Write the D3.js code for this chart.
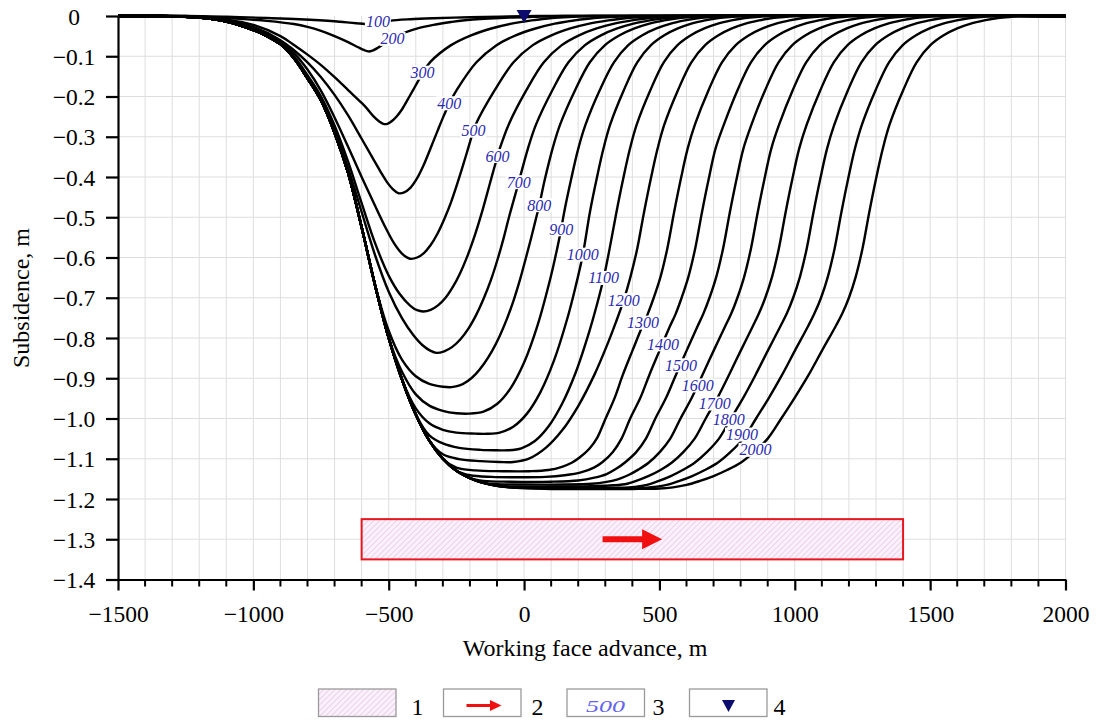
<!DOCTYPE html>
<html><head><meta charset="utf-8">
<script src="https://cdn.jsdelivr.net/npm/d3@7"></script>
<style>
body{margin:0;background:#fff;}
svg{display:block;font-family:"Liberation Serif","Times New Roman",serif;}
</style></head><body>
<svg id="chart" width="1098" height="720"></svg>
<script>
// ---------------- data ----------------
const advances = [100,200,300,400,500,600,700,800,900,1000,1100,1200,1300,1400,1500,1600,1700,1800,1900,2000];
const xTicks = [-1500,-1000,-500,0,500,1000,1500,2000];
const yTicks = [0,-0.1,-0.2,-0.3,-0.4,-0.5,-0.6,-0.7,-0.8,-0.9,-1.0,-1.1,-1.2,-1.3,-1.4];

// common left flank of the deep basins
const envelope = [[-1500,0],[-1350,0],[-1300,-0.001],[-1200,-0.004],[-1100,-0.014],[-1000,-0.035],[-950,-0.05],[-900,-0.07],[-850,-0.105],[-800,-0.155],[-750,-0.21],[-700,-0.29],[-650,-0.39],[-600,-0.525],[-550,-0.67],[-500,-0.80],[-450,-0.905],[-400,-0.99],[-350,-1.055],[-300,-1.10],[-250,-1.13],[-200,-1.148],[-150,-1.16],[-100,-1.167],[-50,-1.171],[0,-1.173],[100,-1.175]];

const p100 = [[-1500,0],[-1250,0],[-1100,-0.002],[-950,-0.005],[-830,-0.008],[-700,-0.013],[-620,-0.018],[-570,-0.02],[-530,-0.017],[-495,-0.012],[-420,-0.008],[-335,-0.0055],[-200,-0.003],[-90,-0.0015],[50,0],[2000,0]];
const p200 = [[-1500,0],[-1250,0],[-1150,-0.003],[-1050,-0.007],[-950,-0.012],[-850,-0.02],[-800,-0.027],[-750,-0.037],[-700,-0.05],[-650,-0.065],[-615,-0.077],[-590,-0.085],[-575,-0.088],[-560,-0.086],[-540,-0.079],[-515,-0.068],[-486,-0.057],[-460,-0.048],[-440,-0.041],[-390,-0.03],[-335,-0.022],[-270,-0.015],[-210,-0.01],[-90,-0.005],[35,-0.002],[150,0],[2000,0]];
const p300 = [[-1500,0],[-1300,-0.0005],[-1200,-0.003],[-1100,-0.009],[-1000,-0.022],[-900,-0.05],[-850,-0.072],[-800,-0.096],[-750,-0.122],[-700,-0.152],[-650,-0.184],[-600,-0.216],[-580,-0.23],[-555,-0.25],[-535,-0.262],[-520,-0.268],[-505,-0.268],[-488,-0.261],[-470,-0.249],[-450,-0.231],[-430,-0.208],[-410,-0.184],[-390,-0.16],[-375,-0.141],[-346,-0.114],[-271,-0.073],[-196,-0.048],[-121,-0.031],[-46,-0.019],[28,-0.011],[103,-0.005],[178,-0.002],[253,0],[2000,0]];
const p400 = [[-1500,0],[-1300,0],[-1200,-0.003],[-1100,-0.01],[-1000,-0.027],[-900,-0.06],[-850,-0.085],[-800,-0.115],[-750,-0.152],[-700,-0.196],[-650,-0.247],[-600,-0.305],[-560,-0.352],[-530,-0.387],[-505,-0.414],[-485,-0.43],[-465,-0.44],[-445,-0.439],[-420,-0.427],[-395,-0.403],[-370,-0.369],[-345,-0.328],[-320,-0.286],[-298,-0.25],[-276,-0.217],[-248,-0.183],[-176,-0.115],[-103,-0.073],[-31,-0.048],[42,-0.031],[114,-0.019],[187,-0.011],[259,-0.005],[332,-0.002],[404,0],[2000,0]];
const p500 = [[-1500,0],[-1300,-0.001],[-1200,-0.004],[-1100,-0.012],[-1000,-0.031],[-900,-0.064],[-850,-0.092],[-800,-0.133],[-750,-0.186],[-700,-0.252],[-650,-0.325],[-600,-0.4],[-550,-0.472],[-510,-0.528],[-480,-0.565],[-450,-0.591],[-422,-0.603],[-395,-0.6],[-370,-0.589],[-345,-0.569],[-320,-0.541],[-295,-0.505],[-270,-0.463],[-245,-0.413],[-225,-0.37],[-205,-0.325],[-187,-0.285],[-179,-0.27],[-109,-0.185],[-39,-0.115],[31,-0.073],[101,-0.048],[171,-0.031],[241,-0.019],[311,-0.011],[381,-0.005],[451,-0.002],[521,0],[2000,0]];
const p600 = [[-1500,0],[-1300,-0.001],[-1200,-0.004],[-1100,-0.013],[-1000,-0.033],[-900,-0.067],[-850,-0.1],[-800,-0.147],[-750,-0.2],[-700,-0.272],[-650,-0.362],[-600,-0.465],[-550,-0.565],[-500,-0.645],[-460,-0.69],[-420,-0.72],[-395,-0.731],[-373,-0.734],[-345,-0.73],[-318,-0.719],[-290,-0.7],[-262,-0.672],[-235,-0.637],[-208,-0.594],[-182,-0.545],[-158,-0.493],[-138,-0.445],[-118,-0.396],[-98,-0.348],[-90,-0.33],[-57,-0.27],[8,-0.185],[73,-0.115],[138,-0.073],[203,-0.048],[268,-0.031],[333,-0.019],[398,-0.011],[463,-0.005],[528,-0.002],[593,0],[2000,0]];
const p700 = [[-1500,0],[-1300,-0.001],[-1200,-0.004],[-1100,-0.013],[-1000,-0.034],[-900,-0.069],[-850,-0.103],[-800,-0.152],[-750,-0.207],[-700,-0.283],[-650,-0.378],[-600,-0.487],[-550,-0.595],[-500,-0.685],[-450,-0.752],[-410,-0.792],[-375,-0.818],[-345,-0.832],[-324,-0.837],[-295,-0.833],[-265,-0.822],[-235,-0.803],[-205,-0.776],[-175,-0.74],[-148,-0.7],[-122,-0.655],[-98,-0.605],[-76,-0.553],[-57,-0.503],[-38,-0.457],[-20,-0.413],[14,-0.33],[44,-0.27],[104,-0.185],[164,-0.115],[224,-0.073],[284,-0.048],[344,-0.031],[404,-0.019],[464,-0.011],[524,-0.005],[584,-0.002],[644,0],[2000,0]];
const p800 = [[-500,-0.782],[-450,-0.855],[-400,-0.895],[-350,-0.914],[-300,-0.921],[-268,-0.922],[-238,-0.918],[-208,-0.907],[-178,-0.889],[-148,-0.864],[-118,-0.832],[-90,-0.795],[-63,-0.752],[-38,-0.705],[-15,-0.655],[6,-0.603],[24,-0.557],[40,-0.514],[56,-0.47],[77,-0.405],[105,-0.33],[133,-0.27],[188,-0.185],[243,-0.115],[298,-0.073],[353,-0.048],[408,-0.031],[463,-0.019],[518,-0.011],[573,-0.005],[628,-0.002],[683,0],[2000,0]];
const p900 = [[-450,-0.885],[-400,-0.94],[-350,-0.968],[-300,-0.981],[-250,-0.987],[-205,-0.988],[-150,-0.983],[-100,-0.964],[-50,-0.925],[0,-0.861],[50,-0.768],[100,-0.644],[120,-0.585],[137,-0.53],[148,-0.488],[174,-0.405],[200,-0.33],[227,-0.27],[279,-0.185],[332,-0.115],[384,-0.073],[437,-0.048],[489,-0.031],[542,-0.019],[594,-0.011],[647,-0.005],[699,-0.002],[752,0],[2000,0]];
const p1000 = [[-400,-0.975],[-350,-1.012],[-300,-1.028],[-250,-1.035],[-180,-1.0375],[-137,-1.038],[-90,-1.035],[-40,-1.0205],[10,-0.9885],[60,-0.935],[110,-0.857],[160,-0.751],[190,-0.673],[217,-0.593],[243,-0.488],[268,-0.405],[293,-0.33],[318,-0.27],[368,-0.185],[418,-0.115],[468,-0.073],[518,-0.048],[568,-0.031],[618,-0.019],[668,-0.011],[718,-0.005],[768,-0.002],[818,0],[2000,0]];
const p1100 = [[-350,-1.042],[-300,-1.062],[-240,-1.073],[-160,-1.078],[-100,-1.079],[-60,-1.079],[-10,-1.074],[40,-1.056],[90,-1.02],[140,-0.964],[190,-0.887],[240,-0.786],[270,-0.715],[294,-0.651],[316,-0.578],[341,-0.488],[366,-0.405],[391,-0.33],[416,-0.27],[466,-0.185],[516,-0.115],[566,-0.073],[616,-0.048],[666,-0.031],[716,-0.019],[766,-0.011],[816,-0.005],[866,-0.002],[916,0],[2000,0]];
const p1200 = [[-300,-1.089],[-240,-1.101],[-160,-1.106],[-90,-1.108],[-40,-1.108],[20,-1.099],[80,-1.073],[140,-1.03],[200,-0.969],[260,-0.891],[310,-0.812],[340,-0.7595],[368,-0.706],[393,-0.648],[418,-0.578],[443,-0.488],[468,-0.405],[493,-0.33],[518,-0.27],[568,-0.185],[618,-0.115],[668,-0.073],[718,-0.048],[768,-0.031],[818,-0.019],[868,-0.011],[918,-0.005],[968,-0.002],[1018,0],[2000,0]];
const p1300 = [[-250,-1.122],[-180,-1.129],[-80,-1.131],[20,-1.131],[90,-1.128],[140,-1.12],[176,-1.11],[205,-1.097],[241,-1.075],[270,-1.048],[300,-1.002],[335,-0.948],[364,-0.893],[400,-0.832],[436,-0.772],[457,-0.74],[479,-0.70],[504,-0.648],[529,-0.578],[554,-0.488],[579,-0.405],[604,-0.33],[631,-0.27],[681,-0.185],[731,-0.115],[781,-0.073],[831,-0.048],[881,-0.031],[931,-0.019],[981,-0.011],[1031,-0.005],[1081,-0.002],[1131,0],[2000,0]];
const p1400 = [[-200,-1.141],[-120,-1.145],[-20,-1.146],[80,-1.145],[150,-1.141],[210,-1.134],[258,-1.122],[290,-1.108],[328,-1.083],[360,-1.05],[392,-1.0],[430,-0.948],[462,-0.893],[500,-0.832],[538,-0.772],[560,-0.74],[582,-0.70],[607,-0.648],[632,-0.578],[657,-0.488],[682,-0.405],[707,-0.33],[738,-0.27],[788,-0.185],[838,-0.115],[888,-0.073],[938,-0.048],[988,-0.031],[1038,-0.019],[1088,-0.011],[1138,-0.005],[1188,-0.002],[1238,0],[2000,0]];
const p1500 = [[-150,-1.155],[-50,-1.157],[100,-1.157],[200,-1.154],[260,-1.147],[305,-1.138],[340,-1.125],[375,-1.108],[415,-1.083],[450,-1.05],[485,-1.0],[525,-0.948],[560,-0.893],[600,-0.832],[640,-0.772],[662,-0.74],[685,-0.70],[710,-0.648],[735,-0.578],[760,-0.488],[785,-0.405],[810,-0.33],[840,-0.27],[890,-0.185],[940,-0.115],[990,-0.073],[1040,-0.048],[1090,-0.031],[1140,-0.019],[1190,-0.011],[1240,-0.005],[1290,-0.002],[1340,0],[2000,0]];
const p1600 = [[-100,-1.163],[0,-1.164],[150,-1.164],[250,-1.162],[300,-1.158],[346,-1.151],[384,-1.141],[422,-1.127],[460,-1.11],[502,-1.083],[540,-1.05],[578,-1.0],[620,-0.948],[658,-0.893],[700,-0.832],[742,-0.772],[765,-0.74],[788,-0.70],[813,-0.648],[838,-0.578],[863,-0.488],[888,-0.405],[913,-0.33],[942,-0.27],[992,-0.185],[1042,-0.115],[1092,-0.073],[1142,-0.048],[1192,-0.031],[1242,-0.019],[1292,-0.011],[1342,-0.005],[1392,-0.002],[1442,0],[2000,0]];
const p1700 = [[-50,-1.169],[100,-1.169],[250,-1.168],[330,-1.166],[381,-1.162],[422,-1.153],[463,-1.142],[504,-1.128],[545,-1.11],[589,-1.083],[630,-1.05],[671,-1.0],[715,-0.948],[756,-0.893],[800,-0.832],[844,-0.772],[867,-0.74],[891,-0.70],[916,-0.648],[941,-0.578],[966,-0.488],[991,-0.405],[1016,-0.33],[1044,-0.27],[1094,-0.185],[1144,-0.115],[1194,-0.073],[1244,-0.048],[1294,-0.031],[1344,-0.019],[1394,-0.011],[1444,-0.005],[1494,-0.002],[1544,0],[2000,0]];
const p1800 = [[0,-1.172],[200,-1.172],[350,-1.172],[410,-1.17],[454,-1.165],[498,-1.155],[542,-1.143],[586,-1.128],[630,-1.11],[676,-1.083],[720,-1.05],[764,-1.0],[810,-0.948],[854,-0.893],[900,-0.832],[946,-0.772],[970,-0.74],[994,-0.70],[1019,-0.648],[1044,-0.578],[1069,-0.488],[1094,-0.405],[1119,-0.33],[1146,-0.27],[1196,-0.185],[1246,-0.115],[1296,-0.073],[1346,-0.048],[1396,-0.031],[1446,-0.019],[1496,-0.011],[1546,-0.005],[1596,-0.002],[1646,0],[2000,0]];
const p1900 = [[100,-1.174],[300,-1.174],[430,-1.173],[480,-1.17],[527,-1.165],[574,-1.155],[621,-1.143],[668,-1.128],[715,-1.11],[763,-1.083],[810,-1.05],[857,-1.0],[905,-0.948],[952,-0.893],[1000,-0.832],[1048,-0.772],[1072,-0.74],[1097,-0.70],[1122,-0.648],[1147,-0.578],[1172,-0.488],[1197,-0.405],[1222,-0.33],[1248,-0.27],[1298,-0.185],[1348,-0.115],[1398,-0.073],[1448,-0.048],[1498,-0.031],[1548,-0.019],[1598,-0.011],[1648,-0.005],[1698,-0.002],[1748,0],[2000,0]];
const p2000 = [[200,-1.175],[300,-1.175],[400,-1.175],[500,-1.174],[550,-1.171],[600,-1.165],[650,-1.155],[700,-1.143],[750,-1.128],[800,-1.11],[850,-1.083],[900,-1.05],[950,-1.0],[1000,-0.948],[1050,-0.893],[1100,-0.832],[1150,-0.772],[1175,-0.74],[1200,-0.70],[1225,-0.648],[1250,-0.578],[1275,-0.488],[1300,-0.405],[1325,-0.33],[1350,-0.27],[1400,-0.185],[1450,-0.115],[1500,-0.073],[1550,-0.048],[1600,-0.031],[1650,-0.019],[1700,-0.011],[1750,-0.005],[1800,-0.002],[1850,0],[2000,0]];

// positions of the curve labels (m, m)
const labelX = [-540,-486,-375,-276,-187,-98,-20,56,137,217,294,368,439,513,580,642,704,756,805,855];
const labelY = [-0.014,-0.057,-0.141,-0.217,-0.285,-0.348,-0.413,-0.470,-0.530,-0.593,-0.651,-0.706,-0.762,-0.816,-0.868,-0.918,-0.963,-1.002,-1.040,-1.078];

// longwall panel and advance direction
const panelX = [-600, 1400];
const panelY = [-1.25, -1.35];
const arrowX = [290, 436, 510];
const arrowY = -1.3;
const markerX = 0;
const legendItems = ["1","2","3","4"];
const legendSample = "500";

// ---------------- drawing ----------------
const svg = d3.select("#chart");
const x = d3.scaleLinear().domain([-1500, 2000]).range([118, 1065.5]);
const y = d3.scaleLinear().domain([0, -1.4]).range([16, 579.5]);
const FONT = '"Liberation Serif","Times New Roman",serif';

// hatch pattern
const defs = svg.append("defs");
const pat = defs.append("pattern").attr("id","hatch").attr("patternUnits","userSpaceOnUse")
  .attr("width",4).attr("height",4).attr("patternTransform","rotate(45)");
pat.append("rect").attr("width",4).attr("height",4).attr("fill","#fbf1fb");
pat.append("line").attr("x1",0).attr("y1",0).attr("x2",0).attr("y2",4)
  .attr("stroke","#e4bfe4").attr("stroke-width",1.3);

// grid
const grid = svg.append("g");
d3.range(-1400, 2001, 100).forEach(v => {
  grid.append("line").attr("x1", x(v)).attr("x2", x(v)).attr("y1", y(0)).attr("y2", y(-1.4))
    .attr("stroke", "#dedede").attr("stroke-width", 1);
});
yTicks.slice(1, -1).forEach(v => {
  grid.append("line").attr("x1", x(-1500)).attr("x2", x(2000)).attr("y1", y(v)).attr("y2", y(v))
    .attr("stroke", "#dedede").attr("stroke-width", 1);
});

// panel
svg.append("rect").attr("x", x(panelX[0])).attr("y", y(panelY[0]))
  .attr("width", x(panelX[1]) - x(panelX[0])).attr("height", y(panelY[1]) - y(panelY[0]))
  .attr("fill", "url(#hatch)").attr("stroke", "#e8161e").attr("stroke-width", 2);
// arrow
const ay = y(arrowY);
svg.append("rect").attr("x", x(arrowX[0])).attr("y", ay - 3).attr("width", x(arrowX[1]) - x(arrowX[0]) + 1).attr("height", 6).attr("fill", "#f01010");
svg.append("path").attr("d", `M${x(arrowX[1])},${ay-10}L${x(arrowX[2])},${ay}L${x(arrowX[1])},${ay+10}Z`).attr("fill", "#f01010");

// curves
const parts = [p100,p200,p300,p400,p500,p600,p700,p800,p900,p1000,p1100,p1200,p1300,p1400,p1500,p1600,p1700,p1800,p1900,p2000];
const series = parts.map(part => envelope.filter(p => p[0] < part[0][0]).concat(part));
const line = d3.line().x(d => x(d[0])).y(d => Math.max(y(0), y(d[1]))).curve(d3.curveCatmullRom.alpha(0.5));
svg.append("g").selectAll("path").data(series).join("path")
  .attr("d", line).attr("fill", "none").attr("stroke", "#000").attr("stroke-width", 2.4)
  .attr("stroke-linejoin", "round");

// curve labels
advances.forEach((a, i) => {
  const g = svg.append("g");
  const t = g.append("text").attr("x", x(labelX[i])).attr("y", y(labelY[i])).attr("dy", "0.34em")
    .attr("text-anchor", "middle").attr("font-family", FONT).attr("font-style", "italic")
    .attr("font-size", 16).attr("fill", "#2a2ab0").text(a);
  const bb = t.node().getBBox();
  g.insert("rect", "text").attr("x", bb.x - 1).attr("y", bb.y + 1.5).attr("width", bb.width + 2)
    .attr("height", bb.height - 3).attr("fill", "#fff");
});

// marker
const m0 = x(markerX), y0 = y(0);
svg.append("path").attr("d", `M${m0-7.5},${y0-6}L${m0+7.5},${y0-6}L${m0},${y0+7}Z`).attr("fill", "#0c0c6e");

// axes
const fmtY = d => d === 0 ? "0" : "\u2212" + Math.abs(d).toFixed(1);
const fmtX = d => d < 0 ? "\u2212" + Math.abs(d) : String(d);
const yAxis = svg.append("g").attr("transform", `translate(${x(-1500)},0)`)
  .call(d3.axisLeft(y).tickValues(yTicks).tickSize(12).tickSizeOuter(0).tickFormat(fmtY));
yAxis.attr("font-family", FONT).attr("font-size", 23.5);
yAxis.select(".domain").attr("stroke-width", 2.2);
yAxis.selectAll(".tick line").attr("stroke-width", 2.2);
yAxis.selectAll(".tick text").attr("text-anchor", "middle").attr("x", -44).attr("dy", "0.34em").attr("fill", "#000");

const xAxis = svg.append("g").attr("transform", `translate(0,${y(-1.4)})`)
  .call(d3.axisBottom(x).tickValues(xTicks).tickSize(11).tickSizeOuter(0).tickFormat(fmtX));
xAxis.attr("font-family", FONT).attr("font-size", 23.5);
xAxis.select(".domain").attr("stroke-width", 2.2);
xAxis.selectAll(".tick line").attr("stroke-width", 2.2);
xAxis.selectAll(".tick text").attr("y", 26).attr("dy", "0.71em").attr("fill", "#000");
d3.range(-1400, 2000, 100).filter(v => v % 500 !== 0).forEach(v => {
  svg.append("line").attr("x1", x(v)).attr("x2", x(v)).attr("y1", y(-1.4)).attr("y2", y(-1.4) + 7)
    .attr("stroke", "#000").attr("stroke-width", 2);
});

// axis titles
svg.append("text").attr("x", 585).attr("y", 656).attr("text-anchor", "middle")
  .attr("font-family", FONT).attr("font-size", 24).text("Working face advance, m");
svg.append("text").attr("transform", "translate(29,298) rotate(-90)").attr("text-anchor", "middle")
  .attr("font-family", FONT).attr("font-size", 24).text("Subsidence, m");

// legend
const boxX = [318.5, 443.5, 567, 689.5];
const numX = [411.5, 531.5, 652.5, 773.5];
const lg = svg.append("g");
boxX.forEach((bx, i) => {
  lg.append("rect").attr("x", bx).attr("y", 689).attr("width", 77.5).attr("height", 27.5)
    .attr("fill", i === 0 ? "url(#hatch)" : "#fff").attr("stroke", "#9a9a9a").attr("stroke-width", 1.3);
  lg.append("text").attr("x", numX[i]).attr("y", 715).attr("font-family", FONT).attr("font-size", 24).text(legendItems[i]);
});
// legend arrow
lg.append("rect").attr("x", 466.5).attr("y", 704).attr("width", 24).attr("height", 3).attr("fill", "#f01010");
lg.append("path").attr("d", "M490,700L501.5,705.5L490,711Z").attr("fill", "#f01010");
// legend label sample
lg.append("text").attr("x", 586).attr("y", 712).attr("font-family", FONT).attr("font-style", "italic")
  .attr("font-size", 17.5).attr("fill", "#6464ee").attr("textLength", 39).attr("lengthAdjust", "spacingAndGlyphs").text(legendSample);
// legend marker
lg.append("path").attr("d", "M722,700L735,700L728.5,712Z").attr("fill", "#0c0c6e");
</script></body></html>
